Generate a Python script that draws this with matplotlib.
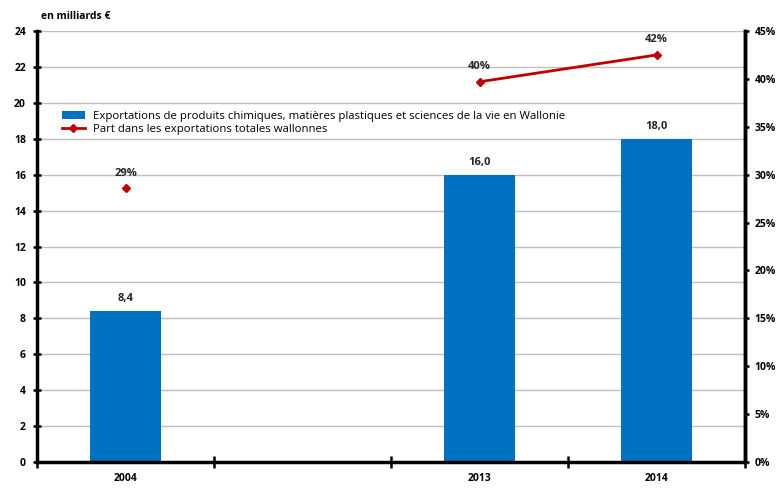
import matplotlib
matplotlib.use("Agg")
import matplotlib.pyplot as plt
import numpy as np

plt.rcParams['font.family'] = ['Open Sans', 'DejaVu Sans']

# categories (one empty slot between 2004 and 2013)
years = ["2004", "", "2013", "2014"]
exports = [8.4, None, 16.0, 18.0]        # en milliards €
share = [28.6, None, 39.7, 42.5]         # % des exportations totales
share_labels = ["29%", "", "40%", "42%"]

bar_color = "#0070C0"
line_color = "#C00000"

fig = plt.figure(figsize=(7.79, 4.90), dpi=100)
ax = fig.add_axes([0.0475, 0.0571, 0.9089, 0.8796])
x = np.arange(len(years))

bar_vals = [v if v is not None else 0 for v in exports]
bars = ax.bar(x, bar_vals, width=0.4, color=bar_color, zorder=2,
              label="Exportations de produits chimiques, matières plastiques et sciences de la vie en Wallonie")
for xi, v in zip(x, exports):
    if v is not None:
        ax.text(xi, v + 0.4, f"{v:.1f}".replace(".", ","), ha="center", va="bottom",
                fontsize=8, fontweight="bold", color="#262626")

ax.set_xlim(-0.5, len(years) - 0.5)
ax.set_ylim(0, 24)
ax.set_yticks(range(0, 25, 2))
ax.set_xticks(x)
ax.set_xticklabels(years)
ax.set_xticks(np.arange(-0.5, len(years)), minor=True)
ax.tick_params(axis="x", which="major", length=0, pad=8)
ax.tick_params(axis="x", which="minor", length=8, width=1.8, direction="inout")
ax.tick_params(axis="y", length=6, width=1.8, direction="inout", pad=5)
for lbl in ax.get_xticklabels() + ax.get_yticklabels():
    lbl.set_fontweight("bold")
    lbl.set_fontsize(7.5)
ax.grid(axis="y", color="#BFBFBF", linewidth=1, zorder=0)
ax.set_axisbelow(True)
ax.spines["top"].set_visible(False)
for s in ["left", "bottom", "right"]:
    ax.spines[s].set_linewidth(2.5)
ax.text(0.005, 1.02, "en milliards €", transform=ax.transAxes, fontsize=7.5,
        fontweight="bold", ha="left", va="bottom")

ax2 = ax.twinx()
ax2.set_ylim(0, 45)
ax2.set_yticks(range(0, 46, 5))
ax2.set_yticklabels([f"{t}%" for t in range(0, 46, 5)])
ax2.tick_params(axis="y", length=3, width=1.8, direction="out", pad=4)
for lbl in ax2.get_yticklabels():
    lbl.set_fontweight("bold")
    lbl.set_fontsize(7.5)
for s in ["top", "left", "bottom"]:
    ax2.spines[s].set_visible(False)
ax2.spines["right"].set_linewidth(2.5)

share_vals = [np.nan if v is None else v for v in share]
line, = ax2.plot(x, share_vals, color=line_color, marker="D", markersize=4,
                 linewidth=2, label="Part dans les exportations totales wallonnes")
for xi, v, t in zip(x, share, share_labels):
    if v is not None:
        ax2.text(xi, v + 1.0, t, ha="center", va="bottom", fontsize=8,
                 fontweight="bold", color="#262626")

leg = ax.legend(handles=[bars, line], loc="upper left", bbox_to_anchor=(0.033, 0.818),
                frameon=True, fancybox=False, edgecolor="white", framealpha=1,
                fontsize=8.2, handlelength=2.1, handletextpad=0.7, borderpad=0.1,
                labelspacing=0.2, borderaxespad=0)
leg.set_zorder(5)

plt.savefig("out.png", dpi=100)
